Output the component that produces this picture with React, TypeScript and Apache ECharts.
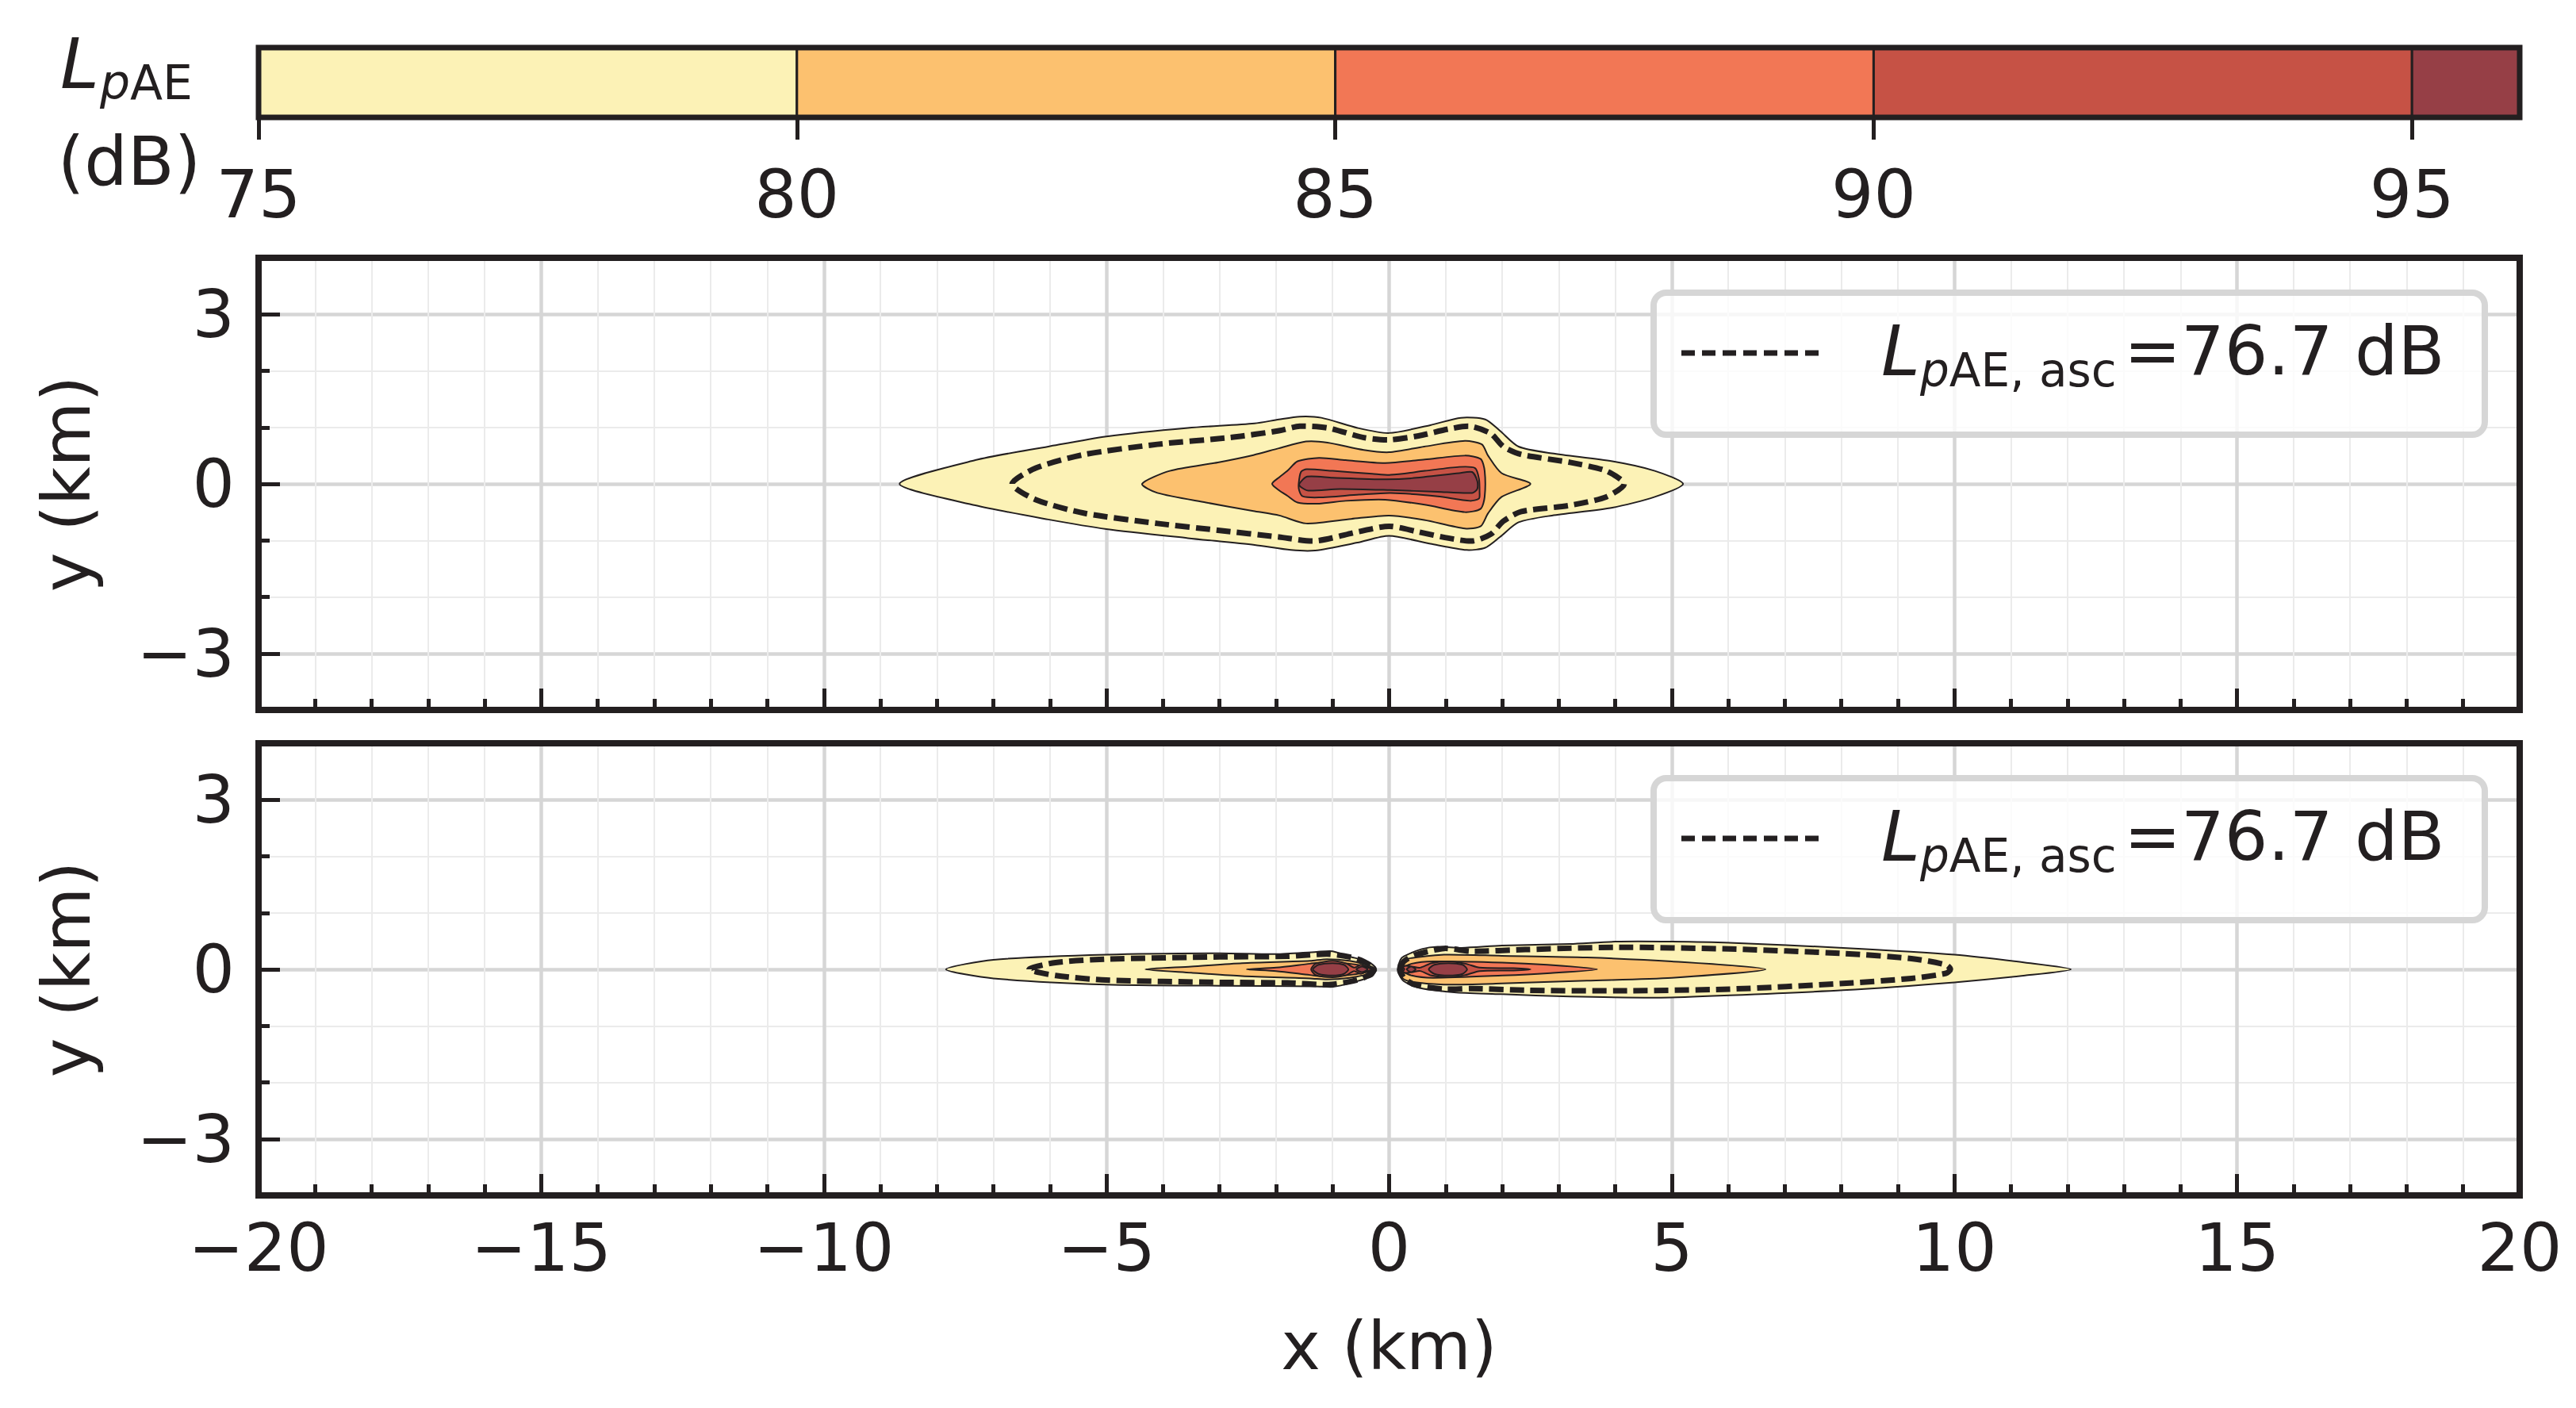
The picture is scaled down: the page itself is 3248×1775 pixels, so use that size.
import { useEffect, useRef } from 'react';
import * as echarts from 'echarts';

const FONT = "'DejaVu Sans', sans-serif";
const INK = '#231f20';

// colour bar (dB)
const LEVELS = [75, 80, 85, 90, 95, 96];
const CBAR_TICKS = [75, 80, 85, 90, 95];
const LEVEL_COLORS = ['#fcf2b6', '#fcc16f', '#f27755', '#c65245', '#963f46'];

const Y_MAJOR = [-3, 0, 3];
const ASC_LABEL = '=76.7 dB';

// top panel contours, [x km, y km]
const TOP_75 = [
  [-8.66, 0], [-7.32, 0.42], [-6.03, 0.66], [-5.0, 0.84], [-3.56, 0.99], [-2.38, 1.07], [-1.95, 1.14],
  [-1.58, 1.19], [-1.2, 1.17], [-0.56, 0.99], [0, 0.9], [0.73, 1.04], [1.27, 1.17], [1.7, 1.14],
  [1.96, 0.94], [2.29, 0.66], [2.88, 0.54], [3.95, 0.4], [4.7, 0.23], [5.2, 0], [4.7, -0.23],
  [3.95, -0.42], [2.88, -0.56], [2.29, -0.68], [1.96, -0.94], [1.7, -1.13], [1.37, -1.17],
  [0.73, -1.06], [0, -0.92], [-0.56, -1.04], [-1.31, -1.18], [-1.74, -1.17], [-2.38, -1.08],
  [-3.56, -0.96], [-5.0, -0.8], [-6.03, -0.63], [-7.32, -0.38],
];
const TOP_80 = [
  [-4.37, 0], [-3.88, 0.23], [-3.03, 0.38], [-2.4, 0.51], [-1.95, 0.63], [-1.47, 0.75], [-1.09, 0.73],
  [-0.45, 0.6], [0, 0.56], [0.62, 0.66], [1.34, 0.76], [1.64, 0.7], [1.75, 0.5], [1.99, 0.19], [2.5, 0],
  [1.99, -0.23], [1.75, -0.52], [1.62, -0.75], [1.34, -0.79], [0.62, -0.64], [0, -0.56], [-0.67, -0.62],
  [-1.47, -0.7], [-1.94, -0.56], [-2.4, -0.48], [-3.24, -0.33], [-4.1, -0.16],
];
const TOP_85 = [
  [-2.07, 0], [-1.94, 0.12], [-1.8, 0.23], [-1.62, 0.4], [-1.24, 0.46], [-0.77, 0.42], [-0.07, 0.37],
  [0.63, 0.43], [1.34, 0.5], [1.62, 0.44], [1.69, 0.23], [1.69, -0.23], [1.62, -0.44], [1.34, -0.5],
  [0.63, -0.37], [-0.07, -0.28], [-0.77, -0.3], [-1.24, -0.35], [-1.62, -0.33], [-1.8, -0.21], [-1.94, -0.12],
];
const TOP_90 = [
  [-1.6, 0], [-1.56, 0.21], [-1.46, 0.26], [-1.0, 0.23], [-0.3, 0.18], [0.03, 0.16], [0.63, 0.23],
  [1.24, 0.3], [1.52, 0.28], [1.59, 0.09], [1.6, -0.14], [1.59, -0.26], [1.43, -0.3], [0.86, -0.22],
  [0.03, -0.16], [-0.53, -0.19], [-1.24, -0.24], [-1.53, -0.22], [-1.59, -0.12],
];
const TOP_95 = [
  [-1.59, 0], [-1.45, 0.13], [-1.0, 0.11], [-0.07, 0.08], [0.4, 0.1], [1.24, 0.19], [1.47, 0.21],
  [1.56, 0.05], [1.56, -0.09], [1.47, -0.16], [0.86, -0.14], [0.02, -0.11], [-0.87, -0.09],
  [-1.43, -0.12], [-1.57, -0.05],
];
const TOP_ASC = [
  [-6.67, 0], [-6.25, 0.28], [-5.39, 0.52], [-4.1, 0.7], [-2.81, 0.82], [-1.95, 0.94], [-1.58, 1.02],
  [-1.09, 0.99], [-0.45, 0.82], [0, 0.78], [0.52, 0.85], [1.05, 0.97], [1.43, 1.02], [1.8, 0.89],
  [2.02, 0.66], [2.34, 0.52], [3.2, 0.38], [3.84, 0.23], [4.16, 0], [3.84, -0.23], [3.2, -0.38],
  [2.34, -0.49], [2.02, -0.66], [1.8, -0.89], [1.48, -1.01], [1.05, -0.96], [0.52, -0.85], [0, -0.75],
  [-0.56, -0.85], [-1.31, -1.01], [-1.95, -0.94], [-3.03, -0.82], [-4.1, -0.7], [-5.39, -0.52], [-6.25, -0.28],
];

// bottom panel contours, [x km, y km]
const BOT_75_L = [
  [-7.84, 0], [-7.0, 0.17], [-5.0, 0.26], [-3.0, 0.285], [-2.0, 0.27], [-1.28, 0.31], [-1.0, 0.32],
  [-0.72, 0.23], [-0.44, 0.16], [-0.3, 0.09], [-0.23, 0], [-0.3, -0.12], [-0.64, -0.23], [-0.99, -0.31],
  [-1.3, -0.3], [-3.0, -0.29], [-5.0, -0.27], [-7.0, -0.16],
];
const BOT_75_R = [
  [0.15, 0], [0.2, 0.17], [0.26, 0.23], [0.58, 0.36], [0.86, 0.4], [1.28, 0.38], [1.99, 0.42], [3.2, 0.45],
  [4.0, 0.49], [5.0, 0.49], [6.02, 0.47], [8.03, 0.38], [10.0, 0.26], [11.25, 0.12], [12.06, 0],
  [11.25, -0.11], [10.0, -0.23], [8.03, -0.37], [6.02, -0.46], [4.81, -0.5], [3.2, -0.48], [1.99, -0.44],
  [1.19, -0.41], [0.78, -0.37], [0.5, -0.32], [0.26, -0.21], [0.18, -0.1],
];
const BOT_80_L = [
  [-4.31, 0], [-3.5, 0.05], [-2.6, 0.11], [-1.4, 0.15], [-1.1, 0.18], [-0.7, 0.15], [-0.4, 0.08],
  [-0.24, 0], [-0.4, -0.09], [-0.7, -0.15], [-1.1, -0.18], [-1.4, -0.16], [-2.6, -0.12], [-3.5, -0.06],
];
const BOT_80_R = [
  [0.18, 0], [0.24, 0.16], [0.4, 0.2], [0.97, 0.26], [1.99, 0.24], [3.5, 0.21], [5.0, 0.14], [6.66, 0],
  [5.0, -0.15], [3.5, -0.2], [1.99, -0.25], [0.97, -0.27], [0.4, -0.22], [0.24, -0.16],
];
const BOT_85_L = [
  [-2.52, 0], [-2.0, 0.03], [-1.4, 0.1], [-1.1, 0.13], [-0.7, 0.1], [-0.4, 0.05], [-0.26, 0],
  [-0.4, -0.05], [-0.7, -0.1], [-1.1, -0.13], [-1.4, -0.1], [-2.0, -0.03],
];
const BOT_85_R = [
  [0.2, 0], [0.4, 0.1], [0.78, 0.14], [2.0, 0.12], [2.8, 0.08], [3.68, 0], [2.8, -0.07], [2.0, -0.11],
  [0.78, -0.15], [0.4, -0.11],
];
const BOT_90_L = [
  [-1.38, 0], [-1.3, 0.1], [-1.0, 0.15], [-0.75, 0.1], [-0.62, 0.03], [-0.5, 0.08], [-0.38, 0.03],
  [-0.3, 0], [-0.38, -0.03], [-0.5, -0.08], [-0.62, -0.03], [-0.75, -0.1], [-1.0, -0.14], [-1.3, -0.1],
];
const BOT_90_R = [
  [0.2, 0], [0.28, 0.06], [0.4, 0.05], [0.55, 0.03], [0.75, 0.11], [1.05, 0.14], [1.35, 0.1], [1.6, 0.03],
  [2.2, 0.02], [2.5, 0], [2.2, -0.02], [1.6, -0.03], [1.35, -0.1], [1.05, -0.14], [0.75, -0.11],
  [0.55, -0.03], [0.4, -0.05], [0.28, -0.06],
];
const BOT_95_L = [[-1.35, 0], [-1.25, 0.08], [-1.0, 0.11], [-0.8, 0.08], [-0.72, 0], [-0.8, -0.08], [-1.0, -0.11], [-1.25, -0.08]];
const BOT_95_L2 = [[-0.58, 0], [-0.48, 0.05], [-0.38, 0], [-0.48, -0.05]];
const BOT_95_R = [[0.7, 0], [0.8, 0.08], [1.05, 0.11], [1.3, 0.08], [1.38, 0], [1.3, -0.08], [1.05, -0.11], [0.8, -0.08]];
const BOT_95_R2 = [[0.31, 0], [0.39, 0.05], [0.47, 0], [0.39, -0.05]];
const BOT_95_R3 = [[0.19, 0], [0.23, 0.04], [0.27, 0], [0.23, -0.04]];
const BOT_ASC_L = [
  [-6.37, 0], [-5.9, 0.12], [-5.0, 0.18], [-3.0, 0.22], [-1.8, 0.23], [-1.1, 0.27], [-0.7, 0.22],
  [-0.45, 0.14], [-0.26, 0], [-0.45, -0.15], [-0.7, -0.22], [-1.1, -0.27], [-1.8, -0.24], [-3.0, -0.23],
  [-5.0, -0.19], [-5.9, -0.11],
];
const BOT_ASC_R = [
  [0.2, 0], [0.26, 0.14], [0.45, 0.25], [0.97, 0.37], [1.45, 0.32], [2.41, 0.35], [4.0, 0.39], [6.02, 0.36],
  [8.03, 0.28], [9.24, 0.19], [9.85, 0.08], [9.93, 0], [9.85, -0.07], [9.24, -0.16], [8.03, -0.25],
  [6.02, -0.35], [4.0, -0.38], [2.41, -0.37], [1.45, -0.34], [0.97, -0.35], [0.45, -0.27], [0.26, -0.15],
];

// level index per shape, -1 = dashed ascent contour
const TOP_SHAPES = [
  { level: 0, pts: TOP_75 }, { level: 1, pts: TOP_80 }, { level: 2, pts: TOP_85 },
  { level: 3, pts: TOP_90 }, { level: 4, pts: TOP_95 }, { level: -1, pts: TOP_ASC },
];
const BOTTOM_SHAPES = [
  { level: 0, pts: BOT_75_L }, { level: 0, pts: BOT_75_R },
  { level: 1, pts: BOT_80_L }, { level: 1, pts: BOT_80_R },
  { level: 2, pts: BOT_85_L }, { level: 2, pts: BOT_85_R },
  { level: 3, pts: BOT_90_L }, { level: 3, pts: BOT_90_R },
  { level: 4, pts: BOT_95_L }, { level: 4, pts: BOT_95_L2 }, { level: 4, pts: BOT_95_R },
  { level: 4, pts: BOT_95_R2 }, { level: 4, pts: BOT_95_R3 },
  { level: -1, pts: BOT_ASC_L }, { level: -1, pts: BOT_ASC_R },
];

const minus = (v: number) => String(v).replace('-', '\u2212');
const textStyle = { color: INK, fontFamily: FONT, fontSize: 84 };

const contourRenderer = (shapes: { level: number; pts: number[][] }[]) => (params: any, api: any) => {
  const s = shapes[params.dataIndex];
  const points = s.pts.map((p) => api.coord(p));
  if (s.level < 0) {
    return {
      type: 'polygon',
      shape: { points, smooth: 0.25 },
      style: { fill: 'none', stroke: INK, lineWidth: 7, lineDash: [18, 8] },
    };
  }
  return {
    type: 'polygon',
    shape: { points, smooth: 0.25 },
    style: { fill: LEVEL_COLORS[s.level], stroke: INK, lineWidth: 2 },
  };
};

const panelX = (gridIndex: number, labels: boolean) => ({
  type: 'value',
  gridIndex,
  min: -20,
  max: 20,
  interval: 5,
  axisLine: { show: true, onZero: false, lineStyle: { color: INK, width: 8 } },
  axisTick: { show: true, inside: true, length: 27, lineStyle: { color: INK, width: 5 } },
  minorTick: { show: true, splitNumber: 5, length: 14, lineStyle: { color: INK, width: 5 } },
  splitLine: { show: true, lineStyle: { color: '#d6d6d6', width: 4.5 } },
  minorSplitLine: { show: true, lineStyle: { color: '#ebebeb', width: 2 } },
  axisLabel: { show: labels, margin: 24, formatter: minus, ...textStyle },
  name: labels ? 'x (km)' : '',
  nameLocation: 'middle',
  nameGap: 148,
  nameTextStyle: textStyle,
});

const panelYMinor = (gridIndex: number) => ({
  type: 'value',
  gridIndex,
  min: -4,
  max: 4,
  interval: 1,
  position: 'left',
  axisLine: { show: true, onZero: false, lineStyle: { color: INK, width: 8 } },
  axisTick: { show: true, inside: true, length: 14, lineStyle: { color: INK, width: 5 } },
  axisLabel: { show: false },
  splitLine: { show: true, lineStyle: { color: '#ebebeb', width: 2 } },
});

const panelYMajor = (gridIndex: number) => ({
  type: 'value',
  gridIndex,
  min: -4,
  max: 4,
  position: 'left',
  axisLine: { show: false, onZero: false },
  axisTick: { show: true, inside: true, length: 27, customValues: Y_MAJOR, lineStyle: { color: INK, width: 5 } },
  axisLabel: { show: true, customValues: Y_MAJOR, margin: 30, formatter: minus, ...textStyle },
  splitLine: { show: true, lineStyle: { color: '#d6d6d6', width: 4.5 } },
  name: 'y (km)',
  nameLocation: 'middle',
  nameGap: 200,
  nameTextStyle: textStyle,
});

const legendGraphic = (dy: number) => [
  {
    type: 'rect',
    z: 20,
    shape: { x: 2085, y: 369 + dy, width: 1048, height: 179, r: 16 },
    style: { fill: 'rgba(255,255,255,0.8)', stroke: '#d6d6d6', lineWidth: 8 },
  },
  {
    type: 'line',
    z: 21,
    shape: { x1: 2120, y1: 445 + dy, x2: 2299, y2: 445 + dy },
    style: { stroke: INK, lineWidth: 7, lineDash: [17, 9] },
  },
  {
    type: 'text',
    z: 21,
    x: 2372,
    y: 442 + dy,
    style: { text: 'L', fill: INK, fontFamily: FONT, fontSize: 88, fontStyle: 'italic', verticalAlign: 'middle' },
  },
  {
    type: 'text',
    z: 21,
    x: 2421,
    y: 467 + dy,
    style: {
      text: '{it|p}{n|AE, asc}',
      fill: INK,
      fontFamily: FONT,
      fontSize: 58,
      verticalAlign: 'middle',
      rich: {
        it: { fontStyle: 'italic', fontFamily: FONT, fontSize: 58, fill: INK },
        n: { fontFamily: FONT, fontSize: 58, fill: INK },
      },
    },
  },
  {
    type: 'text',
    z: 21,
    x: 2678,
    y: 442 + dy,
    style: { text: ASC_LABEL, fill: INK, fontFamily: FONT, fontSize: 86, verticalAlign: 'middle' },
  },
];

export default function App() {
  const chartRef = useRef<HTMLDivElement>(null);

  useEffect(() => {
    document.body.style.margin = '0';
    if (!chartRef.current) return;
    const chart = echarts.init(chartRef.current, null, { renderer: 'svg' });

    const option = {
      animation: false,
      backgroundColor: '#ffffff',
      grid: [
        { left: 326, width: 2851, top: 60, height: 88, show: true, borderColor: INK, borderWidth: 7, z: 10 },
        { left: 326, width: 2851, top: 325, height: 570, show: true, borderColor: INK, borderWidth: 8, z: 10 },
        { left: 326, width: 2851, top: 937, height: 570, show: true, borderColor: INK, borderWidth: 8, z: 10 },
      ],
      xAxis: [
        {
          type: 'value',
          gridIndex: 0,
          min: LEVELS[0],
          max: LEVELS[LEVELS.length - 1],
          interval: 5,
          axisLine: { show: false, onZero: false },
          axisTick: { show: true, inside: false, length: 28, customValues: CBAR_TICKS, lineStyle: { color: INK, width: 5 } },
          axisLabel: { show: true, margin: 55, customValues: CBAR_TICKS, ...textStyle },
          splitLine: { show: false },
        },
        panelX(1, false),
        panelX(2, true),
      ],
      yAxis: [
        { type: 'value', gridIndex: 0, min: 0, max: 1, show: false },
        panelYMinor(1),
        panelYMajor(1),
        panelYMinor(2),
        panelYMajor(2),
      ],
      graphic: [
        {
          type: 'text',
          x: 76,
          y: 80,
          style: { text: 'L', fill: INK, fontFamily: FONT, fontSize: 88, fontStyle: 'italic', verticalAlign: 'middle' },
        },
        {
          type: 'text',
          x: 126,
          y: 104,
          style: {
            text: '{it|p}{n|AE}',
            fill: INK,
            fontFamily: FONT,
            fontSize: 60,
            verticalAlign: 'middle',
            rich: {
              it: { fontStyle: 'italic', fontFamily: FONT, fontSize: 60, fill: INK },
              n: { fontFamily: FONT, fontSize: 60, fill: INK },
            },
          },
        },
        {
          type: 'text',
          x: 163,
          y: 203,
          style: { text: '(dB)', fill: INK, fontFamily: FONT, fontSize: 86, align: 'center', verticalAlign: 'middle' },
        },
        ...legendGraphic(0),
        ...legendGraphic(612),
      ],
      series: [
        {
          type: 'custom',
          xAxisIndex: 0,
          yAxisIndex: 0,
          silent: true,
          data: LEVEL_COLORS.map((_, i) => [LEVELS[i], 0.5]),
          renderItem: (params: any, api: any) => {
            const i = params.dataIndex;
            const p0 = api.coord([LEVELS[i], 1]);
            const p1 = api.coord([LEVELS[i + 1], 0]);
            return {
              type: 'rect',
              shape: { x: p0[0], y: p0[1], width: p1[0] - p0[0], height: p1[1] - p0[1] },
              style: { fill: LEVEL_COLORS[i], stroke: INK, lineWidth: 3 },
            };
          },
        },
        {
          type: 'custom',
          xAxisIndex: 1,
          yAxisIndex: 1,
          silent: true,
          data: TOP_SHAPES.map((s) => s.pts[0]),
          renderItem: contourRenderer(TOP_SHAPES),
        },
        {
          type: 'custom',
          xAxisIndex: 2,
          yAxisIndex: 3,
          silent: true,
          data: BOTTOM_SHAPES.map((s) => s.pts[0]),
          renderItem: contourRenderer(BOTTOM_SHAPES),
        },
      ],
    };

    chart.setOption(option as any);
    return () => {
      chart.dispose();
    };
  }, []);

  return <div ref={chartRef} style={{ width: '3248px', height: '1775px' }} />;
}
